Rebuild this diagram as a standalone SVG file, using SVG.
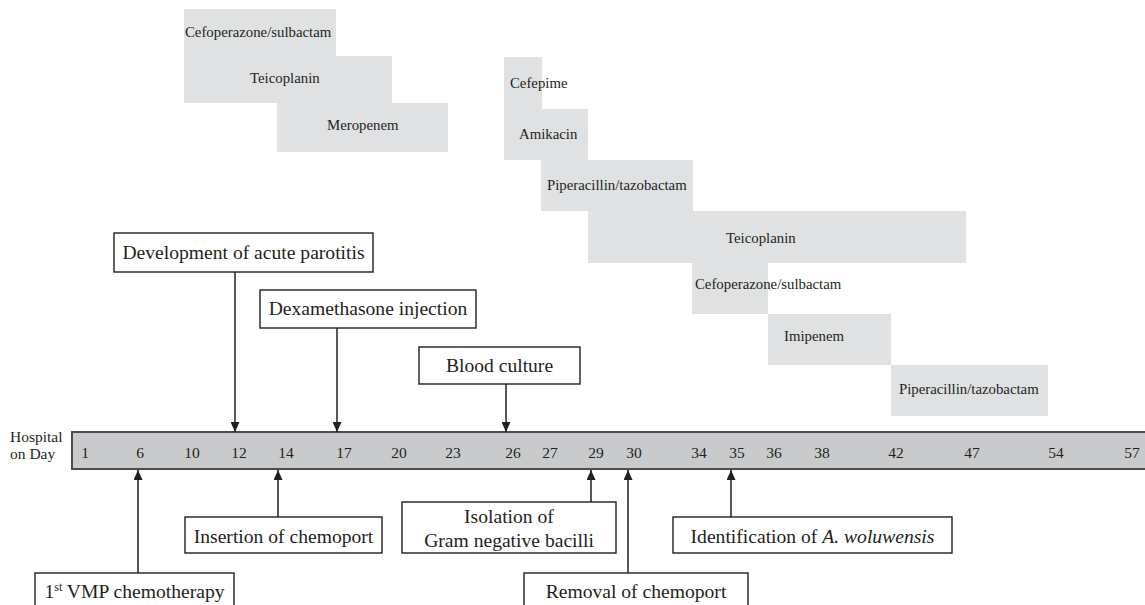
<svg xmlns="http://www.w3.org/2000/svg" width="1145" height="605" viewBox="0 0 1145 605">
<style>
  .drug { fill: #e0e1e3; stroke: none; }
  .dt { font-family: "Liberation Serif", "Times New Roman", serif; font-size: 14.8px; fill: #231f20; }
  .ev { fill: #ffffff; stroke: #231f20; stroke-width: 1.4; }
  .et { font-family: "Liberation Serif", "Times New Roman", serif; font-size: 19.6px; fill: #231f20; text-anchor: middle; }
  .ax { font-family: "Liberation Serif", "Times New Roman", serif; font-size: 15.5px; fill: #231f20; text-anchor: middle; }
  .lbl { font-family: "Liberation Serif", "Times New Roman", serif; font-size: 15.5px; fill: #231f20; }
  .conn { stroke: #231f20; stroke-width: 1.5; fill: none; marker-end: url(#ah); }
</style>
<defs>
  <marker id="ah" viewBox="0 0 10 9" refX="10" refY="4.5" markerWidth="10" markerHeight="9" markerUnits="userSpaceOnUse" orient="auto">
    <path d="M0,0 L10,4.5 L0,9 z" fill="#231f20"/>
  </marker>
</defs>
<rect width="1145" height="605" fill="#ffffff"/>

<!-- first antibiotic course -->
<g id="drug-cefoperazone-1"><rect class="drug" x="184" y="9" width="152" height="47"/><text class="dt" x="185" y="37">Cefoperazone/sulbactam</text></g>
<g id="drug-teicoplanin-1"><rect class="drug" x="184" y="56" width="208" height="47"/><text class="dt" x="250" y="83">Teicoplanin</text></g>
<g id="drug-meropenem"><rect class="drug" x="277" y="103" width="171" height="49"/><text class="dt" x="327" y="130">Meropenem</text></g>

<!-- second antibiotic course -->
<g id="drug-cefepime"><rect class="drug" x="504" y="57" width="38" height="52"/><text class="dt" x="510" y="88">Cefepime</text></g>
<g id="drug-amikacin"><rect class="drug" x="504" y="109" width="84" height="51"/><text class="dt" x="519" y="139">Amikacin</text></g>
<g id="drug-piperacillin-1"><rect class="drug" x="541" y="160" width="152" height="51"/><text class="dt" x="547" y="190">Piperacillin/tazobactam</text></g>
<g id="drug-teicoplanin-2"><rect class="drug" x="588" y="211" width="378" height="52"/><text class="dt" x="726" y="243">Teicoplanin</text></g>
<g id="drug-cefoperazone-2"><rect class="drug" x="692" y="263" width="76" height="51"/><text class="dt" x="695" y="289">Cefoperazone/sulbactam</text></g>
<g id="drug-imipenem"><rect class="drug" x="768" y="314" width="123" height="51"/><text class="dt" x="784" y="341">Imipenem</text></g>
<g id="drug-piperacillin-2"><rect class="drug" x="891" y="365" width="157" height="51"/><text class="dt" x="899" y="394">Piperacillin/tazobactam</text></g>

<!-- timeline -->
<g id="timeline">
  <text class="lbl" x="10" y="442">Hospital</text>
  <text class="lbl" x="10" y="459">on Day</text>
  <rect x="72" y="432" width="1080" height="37" fill="#c9cacc" stroke="#4d4d4f" stroke-width="2"/>
  <text class="ax" x="85" y="458">1</text>
  <text class="ax" x="140" y="458">6</text>
  <text class="ax" x="192" y="458">10</text>
  <text class="ax" x="239" y="458">12</text>
  <text class="ax" x="286" y="458">14</text>
  <text class="ax" x="344" y="458">17</text>
  <text class="ax" x="399" y="458">20</text>
  <text class="ax" x="453" y="458">23</text>
  <text class="ax" x="513" y="458">26</text>
  <text class="ax" x="550" y="458">27</text>
  <text class="ax" x="596" y="458">29</text>
  <text class="ax" x="634" y="458">30</text>
  <text class="ax" x="699" y="458">34</text>
  <text class="ax" x="737" y="458">35</text>
  <text class="ax" x="774" y="458">36</text>
  <text class="ax" x="822" y="458">38</text>
  <text class="ax" x="896" y="458">42</text>
  <text class="ax" x="972" y="458">47</text>
  <text class="ax" x="1056" y="458">54</text>
  <text class="ax" x="1132" y="458">57</text>
</g>

<!-- events above -->
<g id="ev-parotitis"><rect class="ev" x="114" y="233" width="259" height="39"/><text class="et" x="243.5" y="259">Development of acute parotitis</text></g>
<g id="ev-dexamethasone"><rect class="ev" x="260" y="290" width="216" height="38"/><text class="et" x="368" y="315">Dexamethasone injection</text></g>
<g id="ev-blood-culture"><rect class="ev" x="419" y="347" width="161" height="37"/><text class="et" x="499.5" y="372">Blood culture</text></g>

<!-- events below -->
<g id="ev-vmp"><rect class="ev" x="35" y="573" width="199" height="40"/><text class="et" x="134.5" y="598">1<tspan font-size="12" dy="-7">st</tspan><tspan dy="7"> VMP chemotherapy</tspan></text></g>
<g id="ev-insertion"><rect class="ev" x="185" y="517" width="197" height="36"/><text class="et" x="283.5" y="543">Insertion of chemoport</text></g>
<g id="ev-isolation"><rect class="ev" x="402" y="502" width="214" height="51"/><text class="et" x="509" y="523">Isolation of</text><text class="et" x="509" y="547">Gram negative bacilli</text></g>
<g id="ev-removal"><rect class="ev" x="524" y="573" width="224" height="40"/><text class="et" x="636" y="598">Removal of chemoport</text></g>
<g id="ev-identification"><rect class="ev" x="673" y="517" width="279" height="36"/><text class="et" x="812.5" y="543">Identification of <tspan font-style="italic">A. woluwensis</tspan></text></g>

<!-- connectors -->
<g id="connectors">
  <line class="conn" x1="235" y1="272" x2="235" y2="432"/>
  <line class="conn" x1="337" y1="328" x2="337" y2="432"/>
  <line class="conn" x1="506" y1="384" x2="506" y2="432"/>
  <line class="conn" x1="138" y1="573" x2="138" y2="470"/>
  <line class="conn" x1="278" y1="517" x2="278" y2="470"/>
  <line class="conn" x1="591" y1="502" x2="591" y2="470"/>
  <line class="conn" x1="628" y1="573" x2="628" y2="470"/>
  <line class="conn" x1="731" y1="517" x2="731" y2="470"/>
</g>
</svg>
